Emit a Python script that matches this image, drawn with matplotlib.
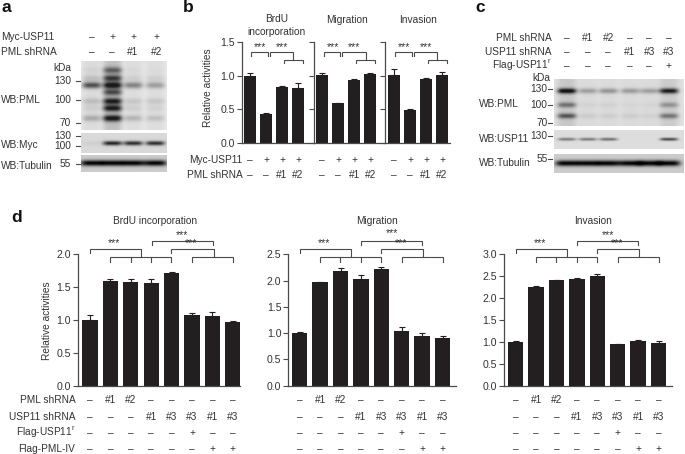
import numpy as np
import matplotlib
matplotlib.use('Agg')
import matplotlib.pyplot as plt

plt.rcParams['font.family'] = ['Liberation Sans', 'DejaVu Sans']
plt.rcParams['font.size'] = 7.3

W, H = 685, 454
TXT = '#333333'
AXC = '#4a4a4a'
BAR = '#231f20'

# panel b values
b_titles = ['BrdU\nincorporation', 'Migration', 'Invasion']
b_vals = [[1.0, 0.43, 0.83, 0.82], [1.01, 0.59, 0.94, 1.03], [1.01, 0.49, 0.95, 1.01]]
b_errs = [[0.04, 0.01, 0.02, 0.07], [0.03, 0.01, 0.01, 0.01], [0.08, 0.02, 0.01, 0.05]]
b_myc = ['–', '+', '+', '+']
b_pml = ['–', '–', '#1', '#2']

# panel d values
d_titles = ['BrdU incorporation', 'Migration', 'Invasion']
d_brdu = [1.0, 1.6, 1.58, 1.56, 1.72, 1.08, 1.06, 0.97]
d_brdu_err = [0.08, 0.03, 0.05, 0.06, 0.01, 0.03, 0.06, 0.02]
d_mig = [1.0, 1.97, 2.19, 2.03, 2.22, 1.05, 0.95, 0.91]
d_mig_err = [0.03, 0.005, 0.05, 0.08, 0.03, 0.06, 0.06, 0.03]
d_inv = [1.0, 2.25, 2.41, 2.43, 2.51, 0.95, 1.03, 0.98]
d_inv_err = [0.01, 0.02, 0.01, 0.03, 0.03, 0.005, 0.01, 0.03]
d_row_names = ['PML shRNA', 'USP11 shRNA', 'Flag-USP11$^{\\mathregular{r}}$', 'Flag-PML-IV']
d_rows = [['–', '#1', '#2', '–', '–', '–', '–', '–'],
          ['–', '–', '–', '#1', '#3', '#3', '#1', '#3'],
          ['–', '–', '–', '–', '–', '+', '–', '–'],
          ['–', '–', '–', '–', '–', '–', '+', '+']]

# western blot band strengths, one list per band, one number per lane
a_lanes = [91.7, 112.3, 133, 155]
a_pml = {85: [0.7, 0.95, 0.45, 0.32], 70: [0.05, 0.5, 0.03, 0.02], 78: [0.15, 0.7, 0.08, 0.08],
         92: [0.0, 0.6, 0.0, 0.0], 101: [0.16, 0.85, 0.12, 0.12], 108: [0.08, 0.85, 0.08, 0.06],
         118: [0.25, 0.9, 0.2, 0.15]}
a_smear = [0.06, 0.2, 0.05, 0.05]
a_myc = {143: [0.05, 0.9, 0.85, 0.85]}
a_tub = {163.5: [1.0, 1.0, 1.0, 1.0]}
c_lanes = [566.7, 587.7, 608.3, 630, 649.3, 668.7]
c_pml = {91: [1.0, 0.3, 0.35, 0.32, 0.3, 0.9], 105: [0.45, 0.04, 0.05, 0.03, 0.03, 0.3],
         116: [0.6, 0.08, 0.07, 0.07, 0.05, 0.45]}
c_smear = [0.12, 0.03, 0.03, 0.03, 0.03, 0.1]
c_usp = {139: [0.5, 0.5, 0.55, 0.0, 0.0, 0.75]}
c_tub = {163: [1.0, 1.0, 1.0, 1.0, 1.0, 1.0]}


def bar_axes(fig, x_axis, x_end, y_top, y_zero, first, step, width, vals, errs, ymax, ticks, ticklabels):
    ax = fig.add_axes([x_axis / W, 1 - y_zero / H, (x_end - x_axis) / W, (y_zero - y_top) / H])
    ax.patch.set_alpha(0)
    xs = np.arange(len(vals))
    ax.bar(xs, vals, width=width / step, color=BAR)
    ax.errorbar(xs, vals, yerr=[np.zeros(len(vals)), errs], fmt='none', ecolor=BAR, elinewidth=0.8,
                capsize=2, capthick=0.8)
    ax.set_xlim((x_axis - first) / step, (x_end - first) / step)
    ax.set_ylim(0, ymax)
    ax.set_xticks([])
    ax.set_yticks(ticks)
    ax.set_yticklabels(ticklabels, color=TXT, fontsize=7.6)
    ax.tick_params(axis='y', length=3.5, width=0.8, color=AXC, pad=1.5)
    ax.spines['top'].set_visible(False)
    ax.spines['right'].set_visible(False)
    for s in ['left', 'bottom']:
        ax.spines[s].set_color(AXC)
        ax.spines[s].set_linewidth(0.9)
    return ax


def blot(ax, x0, x1, y0, y1, lanes, bands, half_w=9.0, sigma=1.8, bg=0.87, smear=None):
    xx, yy = np.meshgrid(np.arange(x0, x1, 0.5), np.arange(y0, y1, 0.5))
    dark = np.zeros(xx.shape)
    for yc, strengths in bands.items():
        for xc, s in zip(lanes, strengths):
            dark += s * np.exp(-((xx - xc) / half_w) ** 4) * np.exp(-((yy - yc) / sigma) ** 2)
    if smear is not None:
        for xc, s in zip(lanes, smear):
            dark += s * np.exp(-((xx - xc) / half_w) ** 4)
    img = np.clip(bg - np.clip(dark, 0, 1) * 0.8, 0, 1)
    ax.imshow(img, extent=(x0, x1, y1, y0), cmap='gray', vmin=0, vmax=1, aspect='auto',
              interpolation='bilinear')


def label(ax, x, y, s, ha='left', **kw):
    kw.setdefault('color', TXT)
    ax.text(x, y, s, ha=ha, va='center', **kw)


def bracket(ax, x0, x1, y, leg0, leg1, inner=()):
    ax.plot([x0, x0, x1, x1], [y + leg0, y, y, y + leg1], color=AXC, lw=0.8, solid_joinstyle='miter')
    for xi in inner:
        ax.plot([xi, xi], [y, y + leg1], color=AXC, lw=0.8)


def stars(ax, x, y):
    ax.text(x, y, '***', ha='center', va='center', color=TXT, fontsize=7.5)


fig = plt.figure(figsize=(W / 100, H / 100), dpi=100)

# panel b
b_axis = [241.7, 314, 385]
b_end = [314, 385, 450]
b_first = [250, 322.3, 394]
b_text = [276.3, 346.7, 418]
for i in range(3):
    bar_axes(fig, b_axis[i], b_end[i], 41.7, 143.3, b_first[i], 16, 12, b_vals[i], b_errs[i], 1.5,
             [0, 0.5, 1.0, 1.5], ['0.0', '0.5', '1.0', '1.5'] if i == 0 else ['', '', '', ''])

# panel d
d_axis = [77.7, 288.3, 504]
d_end = [240, 455.7, 672]
d_first = [90, 299.7, 515.7]
d_step = 20.4
d_vals = [d_brdu, d_mig, d_inv]
d_errs = [d_brdu_err, d_mig_err, d_inv_err]
d_max = [2.0, 2.5, 3.0]
for i in range(3):
    ticks = np.arange(0, d_max[i] + 0.01, 0.5)
    bar_axes(fig, d_axis[i], d_end[i], 254.3, 385.7, d_first[i], d_step, 15.3, d_vals[i], d_errs[i],
             d_max[i], ticks, ['%.1f' % t for t in ticks])

# everything else is placed in picture pixels
ov = fig.add_axes([0, 0, 1, 1], zorder=5)
ov.patch.set_alpha(0)

# blots
blot(ov, 81, 166.7, 61, 130, a_lanes, a_pml, half_w=9.5, sigma=3.2, bg=0.91, smear=a_smear)
blot(ov, 81, 166.7, 133, 153, a_lanes, a_myc, half_w=9.5, sigma=2.2, bg=0.85)
blot(ov, 81, 166.7, 155.7, 172.3, a_lanes, a_tub, half_w=11.5, sigma=2.9, bg=0.8)
blot(ov, 554, 684, 79.3, 126, c_lanes, c_pml, half_w=9.5, sigma=2.6, bg=0.88, smear=c_smear)
blot(ov, 554, 684, 130, 149, c_lanes, c_usp, half_w=9, sigma=1.5, bg=0.87)
blot(ov, 554, 684, 154, 172.7, c_lanes, c_tub, half_w=11.5, sigma=2.9, bg=0.8)

ov.set_xlim(0, W)
ov.set_ylim(H, 0)
ov.axis('off')

# panel letters
for s, x, y in [('a', 1, 8), ('b', 183, 8), ('c', 475, 8), ('d', 11, 218)]:
    ov.text(x, y, s, fontsize=12.5, fontweight='bold', color='#111111', ha='left', va='center')

# panel a text
label(ov, 1, 37, 'Myc-USP11')
label(ov, 1, 52.3, 'PML shRNA')
for x, top, low in zip([91.7, 112.3, 133, 156.7], ['–', '+', '+', '+'], ['–', '–', '#1', '#2']):
    label(ov, x, 37, top, ha='center')
    label(ov, x, 52.3, low, ha='center')
label(ov, 53, 67.7, 'kDa')
for s, y in [('130', 81), ('100', 100), ('70', 122.7), ('130', 136), ('100', 146), ('55', 163.7)]:
    label(ov, 71, y, s, ha='right')
    ov.plot([76, 80], [y, y], color=AXC, lw=0.8)
label(ov, 1, 100.3, 'WB:PML')
label(ov, 1, 145, 'WB:Myc')
label(ov, 1, 165.7, 'WB:Tubulin')

# panel b text
for i in range(3):
    ov.text(b_text[i], 25.7 if i == 0 else 20, b_titles[i], ha='center', va='center', color=TXT,
            linespacing=1.4)
    for j in range(4):
        x = b_first[i] + 16 * j
        label(ov, x, 160, b_myc[j], ha='center')
        label(ov, x, 174.7, b_pml[j], ha='center')
    off = b_first[i] - 250
    bracket(ov, 251.3 + off, 267.7 + off, 51.7, 4.5, 4.5)
    bracket(ov, 270 + off, 293.3 + off, 51.7, 4.5, 8.5)
    bracket(ov, 283.7 + off, 302.7 + off, 60.3, 3, 3)
    stars(ov, 260.3 + off, 47.5)
    stars(ov, 282 + off, 47.5)
label(ov, 242.7, 160, 'Myc-USP11', ha='right')
label(ov, 242.7, 174.7, 'PML shRNA', ha='right')
label(ov, 208, 88, 'Relative activities', ha='center', rotation=90)

# panel c text
for s, y in [('PML shRNA', 37.7), ('USP11 shRNA', 52), ('Flag-USP11$^{\\mathregular{r}}$', 65.7)]:
    label(ov, 551.7, y, s, ha='right')
c_rows = [['–', '#1', '#2', '–', '–', '–'], ['–', '–', '–', '#1', '#3', '#3'], ['–', '–', '–', '–', '–', '+']]
for y, row in zip([37.7, 52, 65.7], c_rows):
    for x, s in zip([566.7, 587.7, 608.3, 630, 649.3, 668.7], row):
        label(ov, x, y, s, ha='center')
label(ov, 550.7, 78, 'kDa', ha='right')
for s, y in [('130', 89), ('100', 105), ('70', 123.3), ('130', 135.7), ('55', 159.3)]:
    label(ov, 547.5, y, s, ha='right')
    ov.plot([548.5, 552.5], [y, y], color=AXC, lw=0.8)
label(ov, 479.3, 103.7, 'WB:PML')
label(ov, 479.3, 139.3, 'WB:USP11')
label(ov, 479.3, 163.3, 'WB:Tubulin')

# panel d text and brackets
d_title_x = [155, 377, 593.3]
d_row_y = [400, 417, 432.7, 449]
for i in range(3):
    label(ov, d_title_x[i], 221, d_titles[i], ha='center')
    for y, row in zip(d_row_y, d_rows):
        for j, s in enumerate(row):
            label(ov, d_first[i] + d_step * j, y, s, ha='center')
    off = d_first[i] - 90
    bracket(ov, 90 + off, 141.3 + off, 249, 3.5, 8)
    bracket(ov, 110.3 + off, 171.3 + off, 257, 5, 5, inner=[130.7 + off, 151 + off])
    bracket(ov, 151.7 + off, 212.7 + off, 240.7, 4.5, 4.5)
    bracket(ov, 171 + off, 213.7 + off, 249, 4, 8)
    bracket(ov, 192.3 + off, 233 + off, 257, 5, 5)
    stars(ov, 114 + off, 243.5)
    stars(ov, 182 + off, 233.5 if i == 1 else 235)
    stars(ov, 191 + off, 243)
for name, y in zip(d_row_names, d_row_y):
    label(ov, 75.3, y, name, ha='right')
label(ov, 47.3, 320.7, 'Relative activities', ha='center', rotation=90)

fig.savefig('out.png', dpi=100)
